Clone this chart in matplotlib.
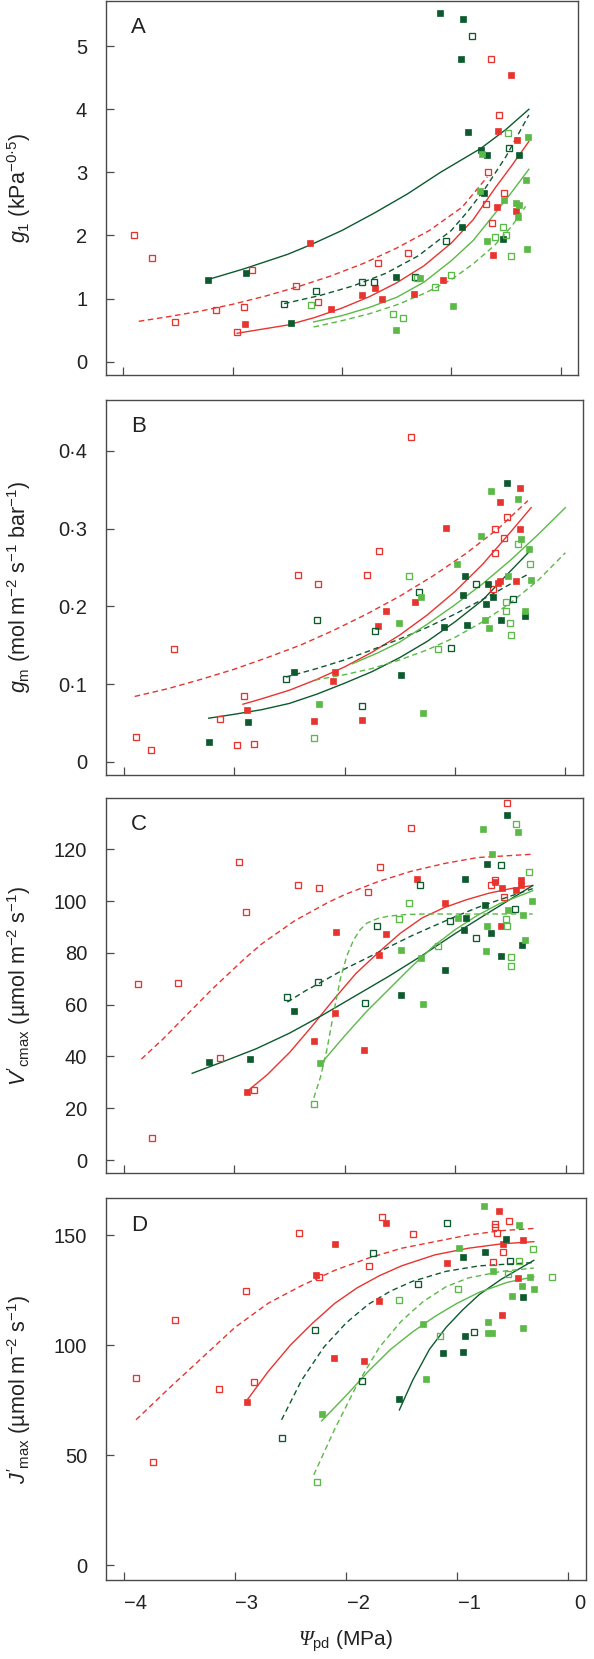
import matplotlib
matplotlib.use('Agg')
import matplotlib.pyplot as plt
from matplotlib.transforms import ScaledTranslation
from matplotlib.ticker import FixedLocator, FixedFormatter

plt.rcParams['font.family'] = ['Liberation Sans', 'DejaVu Sans']
plt.rcParams['mathtext.fontset'] = 'custom'
plt.rcParams['mathtext.rm'] = 'Liberation Sans'
plt.rcParams['mathtext.it'] = 'Liberation Sans:italic'
plt.rcParams['mathtext.bf'] = 'Liberation Sans:bold'
plt.rcParams['mathtext.cal'] = 'Liberation Serif:italic'

# ---------------- colours ----------------
RED = '#e8342f'
DARK = '#0c5a2d'
LIGHT = '#5bb947'

# ---------------- Panel A : g1 ----------------
A_red_open_x = [-3.90, -3.74, -3.53, -3.15, -2.90, -2.82, -2.96, -2.42, -2.22, -1.67, -1.40, -0.66, -0.68, -0.63, -0.52, -0.56, -0.64]
A_red_open_y = [2.00, 1.65, 0.63, 0.82, 0.86, 1.46, 0.47, 1.20, 0.95, 1.56, 1.73, 3.00, 2.50, 2.20, 2.68, 3.91, 4.80]
A_red_fill_x = [-2.29, -2.89, -2.10, -1.82, -1.70, -1.63, -1.34, -1.08, -0.62, -0.58, -0.57, -0.40, -0.41, -0.45]
A_red_fill_y = [1.88, 0.60, 0.84, 1.05, 1.17, 0.99, 1.08, 1.30, 1.69, 2.45, 3.65, 3.51, 2.39, 4.54]
A_dark_fill_x = [-3.23, -2.88, -2.47, -1.51, -1.10, -0.89, -0.91, -0.85, -0.73, -0.67, -0.70, -0.90, -0.53, -0.38]
A_dark_fill_y = [1.29, 1.40, 0.62, 1.34, 5.52, 5.43, 4.80, 3.64, 3.36, 3.27, 2.68, 2.14, 1.94, 3.27]
A_dark_open_x = [-0.81, -2.53, -2.24, -1.82, -1.71, -1.33, -1.05, -0.47]
A_dark_open_y = [5.16, 0.92, 1.12, 1.26, 1.26, 1.34, 1.91, 3.38]
A_light_fill_x = [-1.51, -0.98, -1.29, -0.67, -0.74, -0.72, -0.52, -0.41, -0.38, -0.39, -0.32, -0.31, -0.30]
A_light_fill_y = [0.50, 0.89, 1.33, 1.91, 2.71, 3.29, 2.56, 2.52, 2.49, 2.29, 2.88, 1.78, 3.56]
A_light_open_x = [-2.28, -1.53, -1.44, -1.15, -1.00, -0.60, -0.53, -0.50, -0.45, -0.48, -1.31]
A_light_open_y = [0.90, 0.76, 0.70, 1.18, 1.37, 1.97, 2.13, 2.00, 1.68, 3.63, 1.33]

A_red_dash_x = [-3.86, -3.6, -3.3, -3.0, -2.7, -2.4, -2.1, -1.8, -1.5, -1.2, -0.9, -0.67]
A_red_dash_y = [0.64, 0.71, 0.80, 0.91, 1.04, 1.19, 1.36, 1.56, 1.80, 2.08, 2.45, 2.93]
A_red_solid_x = [-2.96, -2.75, -2.5, -2.25, -2.0, -1.75, -1.5, -1.25, -1.0, -0.8, -0.6, -0.45, -0.29]
A_red_solid_y = [0.45, 0.51, 0.58, 0.70, 0.85, 1.03, 1.25, 1.52, 1.88, 2.25, 2.75, 3.10, 3.49]
A_dark_solid_x = [-3.23, -2.9, -2.5, -2.29, -2.0, -1.7, -1.4, -1.1, -0.73, -0.5, -0.29]
A_dark_solid_y = [1.30, 1.47, 1.70, 1.85, 2.08, 2.36, 2.66, 3.00, 3.38, 3.68, 4.00]
A_dark_dash_x = [-2.53, -2.2, -1.9, -1.6, -1.3, -1.0, -0.85, -0.7, -0.5, -0.29]
A_dark_dash_y = [0.92, 1.05, 1.20, 1.40, 1.68, 2.08, 2.38, 2.72, 3.25, 3.91]
A_light_solid_x = [-2.26, -2.0, -1.75, -1.5, -1.25, -1.0, -0.8, -0.6, -0.45, -0.29]
A_light_solid_y = [0.63, 0.73, 0.86, 1.02, 1.26, 1.60, 1.92, 2.35, 2.68, 3.05]
A_light_dash_x = [-2.26, -2.0, -1.75, -1.5, -1.25, -1.0, -0.8, -0.6, -0.45, -0.32]
A_light_dash_y = [0.55, 0.65, 0.76, 0.90, 1.08, 1.30, 1.55, 1.85, 2.14, 2.46]

# ---------------- Panel B : gm ----------------
B_red_open_x = [-3.89, -3.75, -3.54, -3.13, -2.91, -2.97, -2.82, -2.42, -2.24, -1.80, -1.69, -1.40, -0.64, -0.53, -0.56, -0.64, -0.66]
B_red_open_y = [0.032, 0.015, 0.145, 0.055, 0.084, 0.021, 0.023, 0.240, 0.229, 0.240, 0.271, 0.418, 0.300, 0.315, 0.288, 0.269, 0.222]
B_red_fill_x = [-2.88, -2.28, -2.09, -2.10, -1.84, -1.70, -1.62, -1.36, -1.08, -0.59, -0.41, -0.41, -0.45, -0.61, -0.59]
B_red_fill_y = [0.066, 0.052, 0.116, 0.104, 0.054, 0.175, 0.194, 0.205, 0.301, 0.334, 0.352, 0.299, 0.233, 0.230, 0.233]
B_dark_fill_x = [-3.23, -2.87, -2.46, -1.49, -1.10, -0.91, -0.93, -0.89, -0.70, -0.66, -0.72, -0.58, -0.53, -0.37]
B_dark_fill_y = [0.025, 0.051, 0.116, 0.111, 0.174, 0.239, 0.215, 0.176, 0.229, 0.212, 0.203, 0.183, 0.359, 0.187]
B_dark_open_x = [-2.53, -2.25, -1.84, -1.72, -1.33, -1.04, -0.81, -0.47]
B_dark_open_y = [0.106, 0.182, 0.072, 0.168, 0.219, 0.146, 0.229, 0.210]
B_light_fill_x = [-2.23, -1.51, -1.31, -1.29, -0.98, -0.76, -0.67, -0.73, -0.69, -0.52, -0.43, -0.40, -0.37, -0.33, -0.31]
B_light_fill_y = [0.074, 0.179, 0.212, 0.063, 0.254, 0.290, 0.349, 0.182, 0.172, 0.239, 0.338, 0.287, 0.194, 0.274, 0.234]
B_light_open_x = [-2.28, -1.42, -1.15, -0.54, -0.54, -0.50, -0.49, -0.43, -0.32]
B_light_open_y = [0.031, 0.239, 0.145, 0.206, 0.194, 0.178, 0.163, 0.280, 0.254]

B_red_dash_x = [-3.9, -3.6, -3.3, -3.0, -2.7, -2.4, -2.1, -1.8, -1.5, -1.2, -0.9, -0.6, -0.34]
B_red_dash_y = [0.084, 0.094, 0.106, 0.119, 0.134, 0.150, 0.169, 0.190, 0.213, 0.239, 0.268, 0.301, 0.336]
B_red_solid_x = [-2.92, -2.75, -2.5, -2.25, -2.0, -1.75, -1.5, -1.25, -1.0, -0.75, -0.5, -0.31]
B_red_solid_y = [0.074, 0.081, 0.092, 0.106, 0.122, 0.141, 0.163, 0.189, 0.219, 0.254, 0.295, 0.327]
B_dark_solid_x = [-3.23, -3.0, -2.75, -2.5, -2.25, -2.0, -1.75, -1.5, -1.25, -1.0, -0.75, -0.5, -0.33]
B_dark_solid_y = [0.056, 0.061, 0.067, 0.075, 0.087, 0.101, 0.116, 0.134, 0.155, 0.180, 0.208, 0.245, 0.270]
B_dark_dash_x = [-2.53, -2.25, -2.0, -1.75, -1.5, -1.25, -1.0, -0.67, -0.33]
B_dark_dash_y = [0.109, 0.120, 0.131, 0.144, 0.158, 0.173, 0.190, 0.215, 0.242]
B_light_solid_x = [-1.93, -1.7, -1.5, -1.25, -1.0, -0.75, -0.5, -0.25, 0.0]
B_light_solid_y = [0.126, 0.140, 0.154, 0.177, 0.202, 0.229, 0.259, 0.292, 0.327]
B_light_dash_x = [-2.27, -2.0, -1.75, -1.5, -1.25, -1.0, -0.75, -0.5, -0.25, 0.0]
B_light_dash_y = [0.105, 0.112, 0.120, 0.131, 0.144, 0.160, 0.180, 0.204, 0.233, 0.269]

# ---------------- Panel C : V'cmax ----------------
C_red_open_x = [-3.87, -3.74, -3.51, -3.13, -2.96, -2.89, -2.82, -2.42, -2.23, -1.79, -1.68, -1.40, -0.53, -0.68, -0.64, -0.56]
C_red_open_y = [67.9, 8.4, 68.3, 39.5, 115.1, 95.6, 27.0, 106.2, 104.9, 103.5, 113.1, 128.4, 137.9, 106.1, 108.0, 101.6]
C_red_fill_x = [-2.88, -2.28, -2.09, -2.08, -1.83, -1.69, -1.63, -1.35, -1.09, -0.64, -0.58, -0.59, -0.45, -0.41, -0.41]
C_red_fill_y = [26.1, 45.8, 56.8, 88.2, 42.6, 79.2, 87.2, 108.4, 99.4, 107.4, 105.1, 90.5, 104.2, 108.0, 106.1]
C_dark_fill_x = [-3.23, -2.86, -2.46, -1.49, -1.09, -0.91, -0.90, -0.92, -0.73, -0.71, -0.68, -0.59, -0.53, -0.40]
C_dark_fill_y = [37.9, 39.2, 57.5, 63.9, 73.4, 108.4, 93.4, 89.0, 98.5, 114.5, 87.5, 78.7, 133.2, 83.2]
C_dark_open_x = [-2.52, -2.24, -1.82, -1.71, -1.32, -1.05, -0.81, -0.59, -0.46]
C_dark_open_y = [63.0, 68.8, 60.7, 90.4, 106.1, 92.2, 85.9, 114.1, 97.0]
C_light_fill_x = [-2.22, -1.49, -1.31, -1.29, -0.98, -0.75, -0.71, -0.72, -0.67, -0.52, -0.43, -0.39, -0.37, -0.31]
C_light_fill_y = [37.3, 81.3, 78.2, 60.2, 93.5, 127.8, 90.4, 80.6, 118.3, 96.5, 126.8, 94.8, 85.1, 100.1]
C_light_open_x = [-2.28, -1.51, -1.42, -1.16, -0.54, -0.53, -0.50, -0.50, -0.45, -0.33]
C_light_open_y = [21.5, 93.2, 99.3, 82.8, 93.1, 90.3, 78.5, 75.0, 129.9, 111.3]

C_red_dash_x = [-3.84, -3.65, -3.5, -3.35, -3.2, -3.05, -2.9, -2.75, -2.6, -2.45, -2.3, -2.15, -2.0, -1.7, -1.4, -1.1, -0.8, -0.3]
C_red_dash_y = [39, 46.5, 53, 59.5, 66, 72, 78, 83.5, 88, 92.5, 96, 99.5, 102.5, 107.5, 111.5, 114.5, 116.8, 118.1]
C_red_solid_x = [-2.87, -2.7, -2.5, -2.3, -2.1, -1.9, -1.7, -1.5, -1.3, -1.1, -0.9, -0.7, -0.5, -0.3]
C_red_solid_y = [27, 33, 41.5, 51.5, 62, 72, 80, 87.5, 93.5, 97.5, 100.5, 103, 104.8, 106]
C_dark_solid_x = [-3.38, -3.1, -2.8, -2.5, -2.2, -1.9, -1.6, -1.3, -1.0, -0.7, -0.3]
C_dark_solid_y = [33.5, 38, 43, 49, 56, 63.5, 71, 79, 87.5, 95.5, 106]
C_dark_dash_x = [-2.52, -2.35, -2.2, -2.0, -1.8, -1.6, -1.4, -1.2, -1.0, -0.8, -0.6, -0.3]
C_dark_dash_y = [61, 65.5, 69, 73.8, 78, 82.3, 86.5, 90.3, 94, 97.5, 100.5, 104.8]
C_light_solid_x = [-2.22, -2.0, -1.8, -1.6, -1.4, -1.2, -1.0, -0.8, -0.6, -0.3]
C_light_solid_y = [37, 48, 57.5, 66, 74.5, 82.5, 89, 94.5, 99, 104]
C_light_dash_x = [-2.28, -2.22, -2.16, -2.1, -2.04, -1.98, -1.92, -1.86, -1.8, -1.7, -1.6, -1.45, -1.3, -0.3]
C_light_dash_y = [24, 32, 43, 57, 70, 79, 85, 89, 91.5, 93.3, 94.2, 94.8, 95, 95]

# ---------------- Panel D : J'max ----------------
D_red_open_x = [-3.89, -3.74, -3.54, -3.14, -2.90, -2.83, -2.42, -2.24, -1.79, -1.68, -1.40, -0.66, -0.66, -0.64, -0.53, -0.68, -0.59]
D_red_open_y = [84.8, 47.0, 111.4, 80.0, 124.5, 83.0, 150.9, 130.8, 135.8, 158.0, 150.3, 155.2, 153.8, 150.8, 156.5, 137.7, 142.1]
D_red_fill_x = [-2.89, -2.27, -2.10, -2.11, -1.84, -1.70, -1.64, -1.09, -0.62, -0.59, -0.60, -0.41, -0.45]
D_red_fill_y = [74.1, 131.8, 145.8, 94.1, 92.6, 120.2, 155.5, 137.1, 161.1, 145.9, 113.5, 147.7, 130.5]
D_dark_fill_x = [-1.52, -1.13, -0.95, -0.93, -0.95, -0.75, -0.56, -0.41]
D_dark_fill_y = [75.6, 96.5, 97.0, 104.1, 139.8, 142.1, 148.3, 121.7]
D_dark_open_x = [-2.58, -2.28, -1.86, -1.76, -1.35, -1.09, -0.85, -0.52]
D_dark_open_y = [57.7, 106.7, 83.6, 141.7, 127.7, 155.5, 105.8, 138.2]
D_light_fill_x = [-2.22, -1.31, -1.28, -0.98, -0.76, -0.72, -0.72, -0.69, -0.68, -0.51, -0.44, -0.42, -0.41, -0.34, -0.31]
D_light_fill_y = [68.6, 109.5, 84.5, 144.2, 163.0, 110.6, 105.3, 105.6, 133.5, 122.3, 154.7, 126.8, 107.6, 130.8, 125.3]
D_light_open_x = [-2.26, -1.52, -1.15, -0.99, -0.54, -0.44, -0.32, -0.15]
D_light_open_y = [37.6, 120.5, 104.2, 125.5, 132.3, 138.3, 143.5, 130.9]

D_red_dash_x = [-3.89, -3.6, -3.3, -3.0, -2.7, -2.4, -2.1, -1.8, -1.5, -1.2, -0.9, -0.6, -0.31]
D_red_dash_y = [66, 80, 94, 108, 119, 127, 134, 139.5, 144, 147, 150, 152, 153]
D_red_solid_x = [-2.89, -2.7, -2.5, -2.3, -2.1, -1.9, -1.7, -1.5, -1.2, -0.9, -0.6, -0.31]
D_red_solid_y = [75, 88, 100, 110, 119, 126, 131.5, 136, 141, 144, 146, 147]
D_dark_solid_x = [-1.52, -1.4, -1.25, -1.1, -0.95, -0.8, -0.6, -0.31]
D_dark_solid_y = [70.5, 84, 98, 108, 116, 123, 130, 138.5]
D_dark_dash_x = [-2.58, -2.4, -2.2, -2.0, -1.8, -1.6, -1.4, -1.1, -0.8, -0.31]
D_dark_dash_y = [66, 84, 99, 110, 118.5, 124.5, 129, 133.5, 136, 137.5]
D_light_solid_x = [-2.22, -2.0, -1.8, -1.6, -1.4, -1.2, -1.0, -0.8, -0.55, -0.31]
D_light_solid_y = [65.5, 77, 88, 98, 106, 113, 119, 124, 128.5, 131]
D_light_dash_x = [-2.29, -2.1, -1.9, -1.7, -1.5, -1.3, -1.1, -0.9, -0.6, -0.31]
D_light_dash_y = [41, 62, 82, 99, 111, 120, 126.5, 130.5, 133.5, 135]

# ---------------- axes text / ticks ----------------
panel_letters = ['A', 'B', 'C', 'D']
ylabels = [r'$\mathit{g}_{\mathrm{1}}$ (kPa$^{\mathrm{-0·5}}$)',
           r'$\mathit{g}_{\mathrm{m}}$ (mol m$^{\mathrm{-2}}$ s$^{\mathrm{-1}}$ bar$^{\mathrm{-1}}$)',
           r"$\mathit{V'}_{\mathrm{cmax}}$ (µmol m$^{\mathrm{-2}}$ s$^{\mathrm{-1}}$)",
           r"$\mathit{J'}_{\mathrm{max}}$ (µmol m$^{\mathrm{-2}}$ s$^{\mathrm{-1}}$)"]
xlabel = r'$\mathcal{Ψ}_{\mathrm{pd}}$ (MPa)'
x_ticks = [-4, -3, -2, -1, 0]
x_ticklabels = ['−4', '−3', '−2', '−1', '0']
A_yticks = [0, 1, 2, 3, 4, 5]
A_yticklabels = ['0', '1', '2', '3', '4', '5']
B_yticks = [0, 0.1, 0.2, 0.3, 0.4]
B_yticklabels = ['0', '0·1', '0·2', '0·3', '0·4']
C_yticks = [0, 20, 40, 60, 80, 100, 120]
C_yticklabels = ['0', '20', '40', '60', '80', '100', '120']
D_yticks = [0, 50, 100, 150]
D_yticklabels = ['0', '50', '100', '150']

# ---------------- layout (pixels) ----------------
W, H = 594, 1659
fig = plt.figure(figsize=(W / 100, H / 100), dpi=100)
rects_px = [(106, 577.5, 0.5, 374.5), (106, 582.5, 399.5, 775),
            (106, 583, 798, 1173), (106, 585.5, 1198.3, 1580)]
ylims = [(-0.203, 5.724), (-0.0171, 0.4662), (-5.0, 139.8), (-6.8, 166.7)]
XLIM = (-4.16, 0.155)

panels = [
    dict(pts=[(A_red_open_x, A_red_open_y, RED, False), (A_red_fill_x, A_red_fill_y, RED, True),
              (A_dark_fill_x, A_dark_fill_y, DARK, True), (A_dark_open_x, A_dark_open_y, DARK, False),
              (A_light_fill_x, A_light_fill_y, LIGHT, True), (A_light_open_x, A_light_open_y, LIGHT, False)],
         crv=[(A_red_dash_x, A_red_dash_y, RED, True), (A_red_solid_x, A_red_solid_y, RED, False),
              (A_dark_solid_x, A_dark_solid_y, DARK, False), (A_dark_dash_x, A_dark_dash_y, DARK, True),
              (A_light_solid_x, A_light_solid_y, LIGHT, False), (A_light_dash_x, A_light_dash_y, LIGHT, True)],
         yt=A_yticks, ytl=A_yticklabels),
    dict(pts=[(B_red_open_x, B_red_open_y, RED, False), (B_red_fill_x, B_red_fill_y, RED, True),
              (B_dark_fill_x, B_dark_fill_y, DARK, True), (B_dark_open_x, B_dark_open_y, DARK, False),
              (B_light_fill_x, B_light_fill_y, LIGHT, True), (B_light_open_x, B_light_open_y, LIGHT, False)],
         crv=[(B_red_dash_x, B_red_dash_y, RED, True), (B_red_solid_x, B_red_solid_y, RED, False),
              (B_dark_solid_x, B_dark_solid_y, DARK, False), (B_dark_dash_x, B_dark_dash_y, DARK, True),
              (B_light_solid_x, B_light_solid_y, LIGHT, False), (B_light_dash_x, B_light_dash_y, LIGHT, True)],
         yt=B_yticks, ytl=B_yticklabels),
    dict(pts=[(C_red_open_x, C_red_open_y, RED, False), (C_red_fill_x, C_red_fill_y, RED, True),
              (C_dark_fill_x, C_dark_fill_y, DARK, True), (C_dark_open_x, C_dark_open_y, DARK, False),
              (C_light_fill_x, C_light_fill_y, LIGHT, True), (C_light_open_x, C_light_open_y, LIGHT, False)],
         crv=[(C_red_dash_x, C_red_dash_y, RED, True), (C_red_solid_x, C_red_solid_y, RED, False),
              (C_dark_solid_x, C_dark_solid_y, DARK, False), (C_dark_dash_x, C_dark_dash_y, DARK, True),
              (C_light_solid_x, C_light_solid_y, LIGHT, False), (C_light_dash_x, C_light_dash_y, LIGHT, True)],
         yt=C_yticks, ytl=C_yticklabels),
    dict(pts=[(D_red_open_x, D_red_open_y, RED, False), (D_red_fill_x, D_red_fill_y, RED, True),
              (D_dark_fill_x, D_dark_fill_y, DARK, True), (D_dark_open_x, D_dark_open_y, DARK, False),
              (D_light_fill_x, D_light_fill_y, LIGHT, True), (D_light_open_x, D_light_open_y, LIGHT, False)],
         crv=[(D_red_dash_x, D_red_dash_y, RED, True), (D_red_solid_x, D_red_solid_y, RED, False),
              (D_dark_solid_x, D_dark_solid_y, DARK, False), (D_dark_dash_x, D_dark_dash_y, DARK, True),
              (D_light_solid_x, D_light_solid_y, LIGHT, False), (D_light_dash_x, D_light_dash_y, LIGHT, True)],
         yt=D_yticks, ytl=D_yticklabels),
]

SPINE = '#4a4a4a'
TXT = '#222222'
for i, (p, (l, r, t, b)) in enumerate(zip(panels, rects_px)):
    ax = fig.add_axes([l / W, 1 - b / H, (r - l) / W, (b - t) / H])
    for xs, ys, col, dashed in p['crv']:
        if dashed:
            ax.plot(xs, ys, color=col, lw=1.0, dashes=(4, 2.6), zorder=2)
        else:
            ax.plot(xs, ys, color=col, lw=1.0, zorder=2)
    for xs, ys, col, filled in p['pts']:
        if filled:
            ax.plot(xs, ys, 's', ms=5.0, mfc=col, mec=col, mew=0.5, ls='none', zorder=3, clip_on=False)
        else:
            ax.plot(xs, ys, 's', ms=5.0, mfc='none', mec=col, mew=0.95, ls='none', zorder=3, clip_on=False)
    ax.set_xlim(*XLIM)
    ax.set_ylim(*ylims[i])
    ax.xaxis.set_major_locator(FixedLocator(x_ticks))
    ax.yaxis.set_major_locator(FixedLocator(p['yt']))
    ax.yaxis.set_major_formatter(FixedFormatter(p['ytl']))
    ax.tick_params(direction='in', length=6, width=0.9, color=SPINE, labelsize=14.5,
                   labelcolor=TXT)
    ax.tick_params(axis='y', pad=13.5)
    for s in ax.spines.values():
        s.set_color(SPINE)
        s.set_linewidth(1.0)
    ax.set_ylabel(ylabels[i], fontsize=15.5, color=TXT)
    ax.yaxis.set_label_coords((33 - l) / (r - l), 0.5)
    ax.text(0.053, 0.957, panel_letters[i], transform=ax.transAxes, fontsize=16,
            va='top', ha='left', color=TXT)
    if i == 3:
        ax.xaxis.set_major_formatter(FixedFormatter(x_ticklabels))
        ax.tick_params(axis='x', pad=10)
        off = ScaledTranslation(0.12, 0, fig.dpi_scale_trans)
        for lab in ax.get_xticklabels():
            lab.set_transform(lab.get_transform() + off)
        ax.set_xlabel(xlabel, fontsize=15, color=TXT)
        ax.xaxis.set_label_coords(0.5, -0.128)
    else:
        ax.tick_params(axis='x', labelbottom=False)

fig.savefig('out.png', dpi=100)
